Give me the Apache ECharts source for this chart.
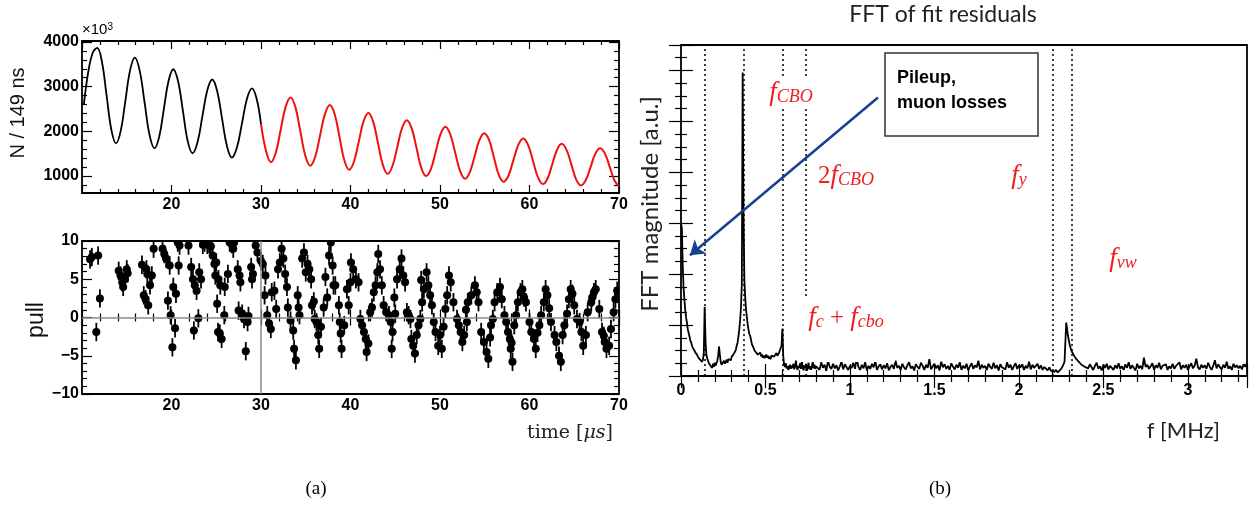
<!DOCTYPE html>
<html><head><meta charset="utf-8">
<script src="https://cdn.jsdelivr.net/npm/echarts@6.0.0/dist/echarts.min.js"></script>
<style>html,body{margin:0;padding:0;background:#fff}#c{width:1250px;height:505px}</style>
</head><body><div id="c"></div>
<script>
// ---------------- DATA ----------------
// (a) top: wiggle plot, N / 149 ns (x10^3), time in us
const waveBlack = [[10.2,2590],[10.7,3330],[11.2,3760],[11.7,3870],[12.225,3558],[12.75,2800],[13.275,2042],[13.8,1730],
[14.325,2010],[14.85,2690],[15.375,3370],[15.9,3650],[16.45,3354],[17.0,2635],[17.55,1916],[18.1,1620],
[18.625,1878],[19.15,2505],[19.675,3132],[20.2,3390],[20.74,3116],[21.28,2450],[21.81,1785],[22.35,1510],
[22.9,1751],[23.45,2335],[24.0,2919],[24.55,3160],[25.1,2905],[25.65,2285],[26.2,1665],[26.75,1410],
[27.31,1636],[27.88,2185],[28.44,2734],[29.0,2960],[29.525,2719],[30.0,2160]];
const waveRed = [[30.0,2160],[30.575,1551],[31.1,1310],[31.65,1522],[32.2,2035],[32.75,2548],[33.3,2760],
[33.85,2537],[34.4,1995],[34.95,1453],[35.5,1230],[36.05,1429],[36.6,1910],[37.15,2391],[37.7,2590],
[38.24,2378],[38.78,1865],[39.31,1352],[39.85,1140],[40.39,1325],[40.93,1775],[41.46,2225],[42.0,2410],
[42.54,2211],[43.08,1730],[43.61,1249],[44.15,1050],[44.69,1225],[45.23,1650],[45.76,2075],[46.3,2250],
[46.84,2067],[47.38,1625],[47.91,1182],[48.45,1000],[48.99,1161],[49.53,1550],[50.06,1939],[50.6,2100],
[51.15,1931],[51.7,1520],[52.25,1109],[52.8,940],[53.34,1089],[53.88,1450],[54.41,1811],[54.95,1960],
[55.49,1801],[56.03,1415],[56.56,1029],[57.1,870],[57.65,1012],[58.2,1355],[58.75,1698],[59.3,1840],
[59.85,1691],[60.4,1330],[60.95,969],[61.5,820],[62.03,951],[62.55,1270],[63.08,1589],[63.6,1720],
[64.14,1584],[64.68,1255],[65.21,926],[65.75,790],[66.29,911],[66.83,1205],[67.36,1499],[67.9,1620],
[68.44,1496],[68.98,1195],[69.51,894],[70.0,775]];
const waveYMajor = [1000,2000,3000,4000];
const waveYMinor = [800,1200,1400,1600,1800,2200,2400,2600,2800,3200,3400,3600,3800];

// (a) bottom: pull [time, pull]
const pullPoints = [[10.9,7.6],[11.1,7.9],[11.6,-1.9],[11.8,8.1],[12.0,2.5],[14.1,6.1],[14.3,5.5],[14.5,4.6],[14.6,4.0],[14.8,5.0],[15.0,6.3],[15.1,5.8],
[16.7,6.9],[16.9,2.9],[17.1,2.4],[17.2,6.3],[17.3,5.7],[17.4,1.6],[17.6,4.2],[17.8,5.5],[18.0,9.0],[19.0,9.0],[19.2,8.3],[19.4,7.7],[19.6,2.2],[19.8,6.8],[19.9,0.3],
[20.1,-3.9],[20.2,4.0],[20.4,-1.4],[20.5,3.1],[20.7,9.8],[20.8,6.8],[20.9,9.4],[21.9,9.4],[22.2,6.6],[22.4,5.0],[22.5,-1.7],[22.6,4.2],[22.8,3.5],[23.0,-0.1],[23.1,5.9],[23.3,5.0],
[23.5,9.5],[23.7,9.8],[24.0,9.5],[24.2,9.6],[24.4,9.3],[24.6,8.1],[24.8,7.0],[24.9,5.5],[25.0,7.2],[25.1,1.8],[25.2,-1.9],[25.25,5.0],[25.4,-2.1],[25.45,4.2],[25.6,-2.8],[25.9,0.3],[25.95,4.0],[26.3,5.7],
[26.5,9.8],[26.7,9.6],[26.9,9.0],[27.0,9.8],[27.4,6.3],[27.5,0.9],[27.6,5.5],[27.7,4.6],[27.9,0.5],[28.1,-0.2],[28.3,-4.4],[28.5,-0.6],[28.6,0.2],[28.9,6.6],[29.0,5.0],[29.1,5.7],[29.4,9.4],[29.6,8.5],
[30.0,7.4],[30.2,7.0],[30.4,2.9],[30.5,5.5],[30.7,0.3],[30.9,-0.8],[31.1,-1.5],[31.2,3.3],[31.5,3.5],[31.7,1.1],[31.9,6.3],[32.1,7.2],[32.3,9.0],[32.5,7.7],[32.7,5.7],[32.9,4.0],[33.0,1.3],
[33.3,-0.4],[33.6,-1.7],[33.7,-4.1],[33.9,-5.6],[34.1,2.9],[34.2,1.3],[34.3,0.3],[34.6,7.7],[34.8,8.5],[35.0,5.9],[35.2,7.0],[35.4,6.3],[35.6,5.0],[35.7,1.6],[36.0,-0.2],[36.2,-0.6],[36.4,-2.3],[36.5,-4.1],[36.7,-1.2],
[37.0,1.3],[37.2,5.3],[37.4,2.6],[37.6,8.1],[37.8,9.8],[38.0,6.8],[38.1,4.2],[38.3,4.2],[38.7,1.6],[38.8,-0.6],[38.9,-2.1],[39.0,-4.1],[39.6,3.7],[39.8,1.6],[40.0,4.6],[40.05,7.2],
[40.3,6.3],[40.6,5.0],[40.9,4.6],[41.1,-0.2],[41.3,-1.0],[41.5,-1.9],[41.7,-2.8],[41.8,-4.5],[42.2,0.7],[42.4,1.3],[42.6,3.3],[42.8,4.2],[43.0,5.9],[43.1,8.3],[43.3,6.3],[43.5,4.2],
[43.7,1.6],[44.0,0.7],[44.3,0.3],[44.5,-0.6],[44.7,-1.9],[44.6,-4.1],[45.0,0.5],[45.2,5.0],[45.5,6.3],[45.7,7.7],[45.9,5.5],[46.1,4.6],[46.3,0.7],[46.5,0.3],[46.7,-0.2],[46.8,-2.8],[47.0,-3.7],[47.2,-4.7],
[47.4,-2.3],[47.6,-1.0],[47.8,-0.2],[48.0,2.0],[48.2,3.7],[48.5,5.9],[48.7,4.2],[48.9,2.9],[49.1,1.6],[49.3,-0.6],[49.5,-1.9],[49.8,-3.7],[50.0,-2.3],[50.2,-4.1],[50.6,1.1],[50.8,2.9],[51.0,5.5],[51.2,4.6],[51.5,2.0],
[51.9,-0.2],[52.1,-1.0],[52.3,-1.9],[52.5,-3.2],[52.7,-2.3],[53.0,-0.6],[53.1,2.0],[53.5,2.9],[53.9,4.2],[54.1,3.3],[54.3,2.0],[54.6,-1.9],[54.9,-3.2],[55.2,-4.5],[55.4,-5.4],[55.7,-1.0],[55.9,-0.2],
[56.1,2.0],[56.4,3.3],[56.7,4.0],[56.9,2.4],[57.2,0.3],[57.4,-0.6],[57.6,-1.9],[57.8,-2.8],[57.9,-4.1],[58.1,-5.8],[58.3,-1.0],[58.5,0.3],[58.7,2.0],[59.0,3.3],[59.2,3.7],[59.4,2.6],[59.6,2.0],
[60.0,-0.6],[60.2,-1.9],[60.5,-2.8],[60.7,-4.1],[61.1,-1.0],[61.3,0.3],[61.6,2.0],[61.8,3.7],[62.0,2.9],[62.4,-0.6],[62.8,-2.3],[63.0,-3.2],[63.3,-5.0],[63.5,-5.8],[63.7,-2.3],[63.9,-1.0],
[64.4,2.4],[64.6,3.7],[64.8,3.1],[65.0,1.6],[65.6,-0.6],[65.8,-1.9],[66.0,-3.7],[66.3,-2.3],[66.5,0.7],[66.9,2.0],[67.2,3.3],[67.4,3.7],[67.8,1.1],[68.1,-1.9],[68.4,-3.2],[68.6,-4.1],[68.9,-3.7],[69.1,-1.5],[69.4,0.7],[69.6,2.4],[69.8,3.5],
[35.9,2.1],[39.3,-1.0],[42.0,-3.4],[44.9,2.6],[47.9,4.9],[50.4,-1.2],[52.9,1.0],[55.6,-2.6],[58.0,-3.3],[60.9,-2.0],[62.2,1.2],[64.2,0.5],[65.3,-0.2],[67.0,2.6],[68.3,-2.4]];
const pullErrY = 1.2;   // error bar half-length (pull units)
const pullErrX = 0.4;   // half bin width (us)

// (b) FFT of fit residuals: magnitude [a.u.]
const fftLowStart = 0, fftLowStep = 0.005;  // 0 .. 0.80 MHz
const fftLow = [
3.0,2.9,2.2,1.75,1.5,1.3,1.15,1.05,0.92,0.85,
0.78,0.7,0.66,0.6,0.55,0.58,0.5,0.46,0.48,0.42,
0.38,0.4,0.33,0.36,0.3,0.28,0.32,0.45,1.36,0.7,
0.42,0.35,0.3,0.25,0.28,0.2,0.22,0.16,0.24,0.18,
0.26,0.2,0.17,0.3,0.4,0.58,0.42,0.28,0.22,0.25,
0.19,0.3,0.24,0.28,0.32,0.26,0.33,0.3,0.35,0.31,
0.38,0.35,0.42,0.4,0.48,0.52,0.6,0.66,0.78,0.92,
1.1,1.35,1.8,5.96,3.2,1.9,1.55,1.3,1.15,1.0,
0.9,0.82,0.78,0.7,0.62,0.6,0.55,0.5,0.52,0.46,
0.48,0.42,0.45,0.4,0.46,0.38,0.42,0.36,0.4,0.35,
0.38,0.42,0.36,0.4,0.34,0.38,0.33,0.4,0.37,0.43,
0.38,0.35,0.41,0.45,0.4,0.37,0.45,0.5,0.48,0.6,
0.93,0.4,0.22,0.18,0.25,0.15,0.2,0.12,0.17,0.22,
0.14,0.2,0.16,0.24,0.13,0.19,0.3,0.17,0.12,0.2,
0.16,0.25,0.14,0.3,0.18,0.11,0.21,0.15,0.24,0.1,
0.18,0.26,0.13,0.19,0.12,0.2,0.28,0.15,0.22,0.14,
0.19];
const fftHighStart = 0.81, fftHighStep = 0.01; // 0.81 .. 3.35 MHz
const fftHigh = [
0.2,0.12,0.27,0.16,0.22,0.1,0.3,0.18,0.14,0.24,
0.15,0.21,0.11,0.19,0.28,0.13,0.23,0.17,0.12,0.2,
0.16,0.26,0.14,0.35,0.18,0.12,0.22,0.15,0.27,0.11,
0.2,0.14,0.24,0.17,0.29,0.12,0.19,0.23,0.13,0.21,
0.15,0.25,0.11,0.18,0.22,0.14,0.3,0.16,0.2,0.12,
0.24,0.17,0.13,0.21,0.27,0.15,0.19,0.11,0.23,0.18,
0.14,0.26,0.2,0.12,0.22,0.16,0.33,0.13,0.19,0.24,
0.15,0.21,0.11,0.28,0.17,0.23,0.14,0.2,0.12,0.25,
0.18,0.13,0.22,0.16,0.27,0.12,0.2,0.15,0.24,0.11,
0.19,0.25,0.14,0.21,0.17,0.3,0.13,0.22,0.16,0.2,
0.12,0.24,0.18,0.14,0.26,0.15,0.21,0.11,0.23,0.17,
0.2,0.13,0.27,0.16,0.22,0.12,0.19,0.25,0.14,0.21,
0.17,0.23,0.12,0.2,0.15,0.28,0.13,0.22,0.16,0.19,
0.24,0.14,0.21,0.12,0.18,0.15,0.11,0.17,0.1,0.13,
0.08,0.12,0.07,0.1,0.14,0.2,0.28,1.05,0.8,0.62,
0.5,0.44,0.38,0.33,0.3,0.26,0.22,0.25,0.18,0.21,
0.15,0.23,0.17,0.12,0.2,0.26,0.14,0.19,0.11,0.22,
0.16,0.24,0.13,0.2,0.17,0.12,0.21,0.15,0.25,0.14,
0.19,0.12,0.23,0.16,0.27,0.14,0.21,0.18,0.11,0.24,
0.15,0.2,0.13,0.36,0.18,0.22,0.14,0.19,0.25,0.12,
0.21,0.16,0.26,0.13,0.2,0.17,0.23,0.12,0.19,0.15,
0.24,0.14,0.2,0.18,0.27,0.13,0.21,0.16,0.22,0.12,
0.19,0.25,0.15,0.2,0.34,0.17,0.13,0.22,0.16,0.21,
0.14,0.26,0.18,0.12,0.2,0.31,0.15,0.23,0.17,0.13,
0.22,0.16,0.28,0.14,0.19,0.12,0.24,0.17,0.21,0.15,
0.2,0.13,0.23,0.18,0.26];
const markerFreqs = [0.142, 0.367, 0.598, 0.74, 2.20, 2.31];   // dotted lines (MHz)
const arrowFrom = [1.166, 5.47], arrowTo = [0.053, 2.37];     // annotation arrow (MHz, a.u.)

// ---------------- BUILD ----------------
const fftData = fftLow.map((v,i)=>[+(fftLowStart + i*fftLowStep).toFixed(3), v])
  .concat(fftHigh.map((v,i)=>[+(fftHighStart + i*fftHighStep).toFixed(3), v]));

const SANS = 'Liberation Sans';
const tickLbl = {fontFamily: SANS, fontWeight: 'bold', fontSize: 16, color: '#000'};
const blk = {color: '#000', width: 1.2};
const xAxes = [], yAxes = [];
function add(list, o){ list.push(Object.assign({type:'value', axisLine:{show:false}, splitLine:{show:false}}, o)); return list.length - 1; }

// grid 0 (top-left)
const g0x = add(xAxes, {gridIndex:0, min:10, max:70, interval:10, position:'bottom',
  axisTick:{inside:true, length:8, lineStyle:blk}, minorTick:{show:true, splitNumber:5, length:4, lineStyle:blk},
  axisLabel:Object.assign({}, tickLbl, {showMinLabel:false, margin:4})});
add(xAxes, {gridIndex:0, min:10, max:70, interval:10, position:'top',
  axisTick:{inside:true, length:8, lineStyle:blk}, minorTick:{show:true, splitNumber:5, length:4, lineStyle:blk}, axisLabel:{show:false}});
const g0y = add(yAxes, {gridIndex:0, min:620, max:4022, position:'left',
  axisTick:{inside:true, length:10, customValues:waveYMajor, lineStyle:blk},
  axisLabel:Object.assign({}, tickLbl, {customValues:waveYMajor, margin:3, formatter: v => String(v)})});
add(yAxes, {gridIndex:0, min:620, max:4022, position:'left', axisTick:{inside:true, length:5, customValues:waveYMinor, lineStyle:blk}, axisLabel:{show:false}});
add(yAxes, {gridIndex:0, min:620, max:4022, position:'right', axisTick:{inside:true, length:10, customValues:waveYMajor, lineStyle:blk}, axisLabel:{show:false}});
add(yAxes, {gridIndex:0, min:620, max:4022, position:'right', axisTick:{inside:true, length:5, customValues:waveYMinor, lineStyle:blk}, axisLabel:{show:false}});

// grid 1 (bottom-left)
const g1x = add(xAxes, {gridIndex:1, min:10, max:70, interval:10, position:'bottom',
  axisTick:{inside:true, length:8, lineStyle:blk}, minorTick:{show:true, splitNumber:5, length:4, lineStyle:blk},
  axisLabel:Object.assign({}, tickLbl, {showMinLabel:false, margin:4})});
add(xAxes, {gridIndex:1, min:10, max:70, interval:10, position:'top',
  axisTick:{inside:true, length:8, lineStyle:blk}, minorTick:{show:true, splitNumber:5, length:4, lineStyle:blk}, axisLabel:{show:false}});
const g1y = add(yAxes, {gridIndex:1, min:-10, max:10, interval:5, position:'left',
  axisTick:{inside:true, length:10, lineStyle:blk}, minorTick:{show:true, splitNumber:5, length:5, lineStyle:blk},
  axisLabel:Object.assign({}, tickLbl, {margin:3, formatter: v => v < 0 ? '\u2212' + (-v) : String(v)})});
add(yAxes, {gridIndex:1, min:-10, max:10, interval:5, position:'right',
  axisTick:{inside:true, length:10, lineStyle:blk}, minorTick:{show:true, splitNumber:5, length:5, lineStyle:blk}, axisLabel:{show:false}});

// grid 2 (right, FFT)
const g2x = add(xAxes, {gridIndex:2, min:0, max:3.35, interval:0.5, position:'bottom',
  axisTick:{inside:true, length:12, lineStyle:blk}, minorTick:{show:true, splitNumber:5, length:6, lineStyle:blk},
  axisLabel:Object.assign({}, tickLbl, {margin:7, showMaxLabel:false})});
add(xAxes, {gridIndex:2, min:0, max:3.35, interval:0.5, position:'top',
  axisTick:{inside:true, length:12, lineStyle:blk}, minorTick:{show:true, splitNumber:5, length:6, lineStyle:blk}, axisLabel:{show:false}});
const g2y = add(yAxes, {gridIndex:2, min:0, max:6.5, interval:1, position:'left',
  axisTick:{inside:true, length:12, lineStyle:blk}, minorTick:{show:true, splitNumber:4, length:6, lineStyle:blk}, axisLabel:{show:false}});
add(yAxes, {gridIndex:2, min:0, max:6.5, interval:1, position:'right',
  axisTick:{inside:true, length:12, lineStyle:blk}, minorTick:{show:true, splitNumber:4, length:6, lineStyle:blk}, axisLabel:{show:false}});

const gridBase = {show:true, borderColor:'#000', borderWidth:1.8, backgroundColor:'rgba(0,0,0,0)', containLabel:false, outerBoundsMode:'none'};

const RED = '#f01e1e';
const mathRich = {
  f:{fontFamily:'Liberation Serif', fontStyle:'italic', fontSize:27, fill:RED, color:RED},
  s:{fontFamily:'Liberation Serif', fontStyle:'italic', fontSize:18, fill:RED, color:RED, verticalAlign:'bottom'},
  n:{fontFamily:'Liberation Serif', fontSize:25, fill:RED, color:RED}
};
function txt(x, y, text, font, o){
  o = o || {};
  return {type:'text', x, y, z:100, rotation:o.rot || 0, silent:true,
    style:Object.assign({text, font, fill:o.fill || '#000', align:o.align || 'center', verticalAlign:o.va || 'middle'}, o.style || {})};
}

const graphic = [
  txt(18, 113, 'N / 149 ns', '20px ' + SANS, {rot:Math.PI/2, fill:'#111'}),
  txt(82, 30, '\u00d710{sup|3}', '15px ' + SANS, {align:'left', style:{rich:{sup:{fontSize:10, verticalAlign:'top', fontFamily:SANS}}}}),
  txt(37, 320, 'pull', '23px ' + SANS, {rot:Math.PI/2, fill:'#111'}),
  txt(613, 433, 'time [{i|\u03bcs}]', '19px DejaVu Serif', {align:'right', fill:'#222', style:{rich:{i:{fontStyle:'italic', fontFamily:'DejaVu Serif', fontSize:19}}}}),
  txt(316, 489, '(a)', '19px Liberation Serif'),
  txt(940, 489, '(b)', '19px Liberation Serif'),
  txt(943, 15, 'FFT of fit residuals', '23px Lato', {fill:'#222'}),
  txt(650, 204, 'FFT magnitude [a.u.]', '24px Lato', {rot:Math.PI/2, fill:'#222'}),
  txt(1220, 431, 'f [MHz]', '22px Lato', {align:'right', fill:'#222'}),
  {type:'rect', z:99, silent:true, shape:{x:765, y:76, width:50, height:32}, style:{fill:'#fff'}},
  {type:'rect', z:99, silent:true, shape:{x:798, y:298, width:97, height:64}, style:{fill:'#fff'}},
  txt(791, 93, '{f|f}{s|CBO}', '27px Liberation Serif', {style:{rich:mathRich}}),
  txt(846, 176, '{n|2}{f|f}{s|CBO}', '27px Liberation Serif', {style:{rich:mathRich}}),
  txt(1019, 176, '{f|f}{s|y}', '27px Liberation Serif', {style:{rich:mathRich}}),
  txt(1123, 259, '{f|f}{s|vw}', '27px Liberation Serif', {style:{rich:mathRich}}),
  txt(846, 318, '{f|f}{s|c}{n| + }{f|f}{s|cbo}', '27px Liberation Serif', {style:{rich:mathRich}}),
  {type:'rect', z:99, silent:true, shape:{x:885, y:53, width:153, height:83}, style:{fill:'#fff', stroke:'#333', lineWidth:1.5}},
  txt(897, 66, 'Pileup,\nmuon losses', 'bold 18px ' + SANS, {align:'left', va:'top', style:{lineHeight:25}})
];

const option = {
  animation:false,
  backgroundColor:'#fff',
  grid:[
    Object.assign({left:82, top:41, width:537, height:152}, gridBase),
    Object.assign({left:82, top:241, width:537, height:153}, gridBase),
    Object.assign({left:681, top:45, width:566, height:331}, gridBase)
  ],
  xAxis:xAxes, yAxis:yAxes,
  graphic,
  series:[
    {type:'line', xAxisIndex:g0x, yAxisIndex:g0y, data:waveBlack, smooth:0.4, showSymbol:false, lineStyle:{color:'#000', width:1.8}, z:3},
    {type:'line', xAxisIndex:g0x, yAxisIndex:g0y, data:waveRed, smooth:0.4, showSymbol:false, lineStyle:{color:'#ee1111', width:2}, z:4},
    {type:'custom', xAxisIndex:g1x, yAxisIndex:g1y, data:pullPoints, clip:true, z:4,
      renderItem:(params, api) => {
        const x = api.value(0), y = api.value(1);
        const c = api.coord([x, y]);
        const up = api.coord([x, y + pullErrY]), dn = api.coord([x, y - pullErrY]);
        const l = api.coord([x - pullErrX, y]), r = api.coord([x + pullErrX, y]);
        const st = {stroke:'#000', lineWidth:1.8};
        return {type:'group', children:[
          {type:'line', shape:{x1:c[0], y1:up[1], x2:c[0], y2:dn[1]}, style:st},
          {type:'line', shape:{x1:l[0], y1:c[1], x2:r[0], y2:c[1]}, style:st},
          {type:'circle', shape:{cx:c[0], cy:c[1], r:4}, style:{fill:'#000'}}
        ]};
      },
      markLine:{silent:true, symbol:'none', label:{show:false}, lineStyle:{color:'#8a8a8a', width:1.5, type:'solid'},
        data:[{yAxis:0}, {xAxis:30}]}
    },
    {type:'line', xAxisIndex:g2x, yAxisIndex:g2y, data:fftData, showSymbol:false, lineStyle:{color:'#000', width:1.8}, z:3,
      markLine:{silent:true, symbol:'none', label:{show:false}, lineStyle:{color:'#000', width:1.5, type:[2,3]},
        data:markerFreqs.map(f => ({xAxis:f}))}
    },
    {type:'lines', coordinateSystem:'cartesian2d', xAxisIndex:g2x, yAxisIndex:g2y, z:5,
      symbol:['none','arrow'], symbolSize:14,
      lineStyle:{color:'#17408f', width:2.5, opacity:1},
      data:[{coords:[arrowFrom, arrowTo]}]}
  ]
};
const chart = echarts.init(document.getElementById('c'), null, {renderer:'canvas'});
chart.setOption(option);
</script></body></html>
